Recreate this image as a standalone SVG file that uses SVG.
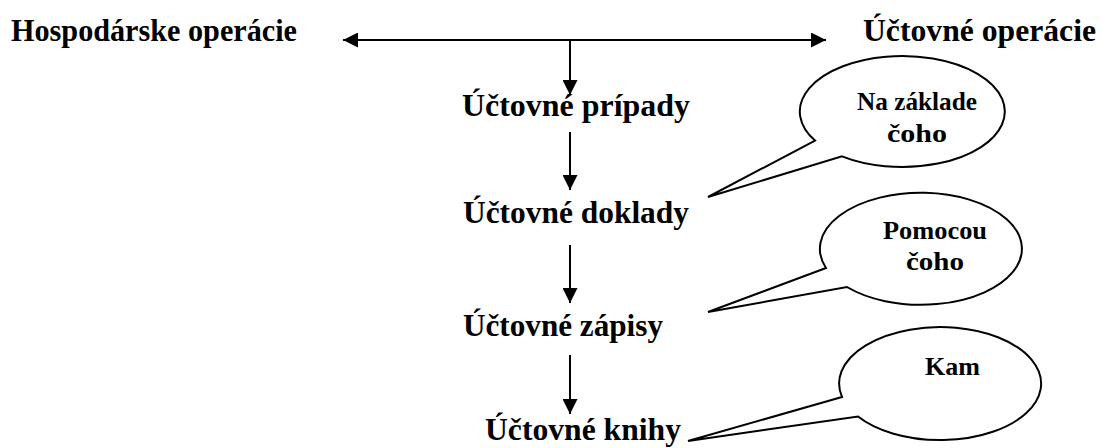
<svg xmlns="http://www.w3.org/2000/svg" width="1101" height="448" viewBox="0 0 1101 448">
<style>
.t{font-family:'Liberation Serif','Times New Roman',serif;font-weight:bold;font-size:32px;fill:#000}
.b{font-family:'Liberation Serif','Times New Roman',serif;font-weight:bold;font-size:26px;fill:#000}
.c{stroke:#000;stroke-width:2;fill:none}
.bub{stroke:#000;stroke-width:2;fill:#fff;stroke-linejoin:miter}
</style>
<defs>
<marker id="ah" viewBox="0 0 10 10" refX="10" refY="5" markerWidth="15" markerHeight="15" markerUnits="userSpaceOnUse" orient="auto-start-reverse">
<path d="M0,0 L10,5 L0,10 z" fill="#000"/>
</marker>
</defs>
<g id="connectors">
<line class="c" x1="343" y1="40" x2="826" y2="40" marker-start="url(#ah)" marker-end="url(#ah)"/>
<line class="c" x1="570" y1="40" x2="570" y2="95" marker-end="url(#ah)"/>
<line class="c" x1="570" y1="132" x2="570" y2="190" marker-end="url(#ah)"/>
<line class="c" x1="570" y1="245" x2="570" y2="303" marker-end="url(#ah)"/>
<line class="c" x1="570" y1="355" x2="570" y2="414" marker-end="url(#ah)"/>
</g>
<g id="n-hospodarske"><text class="t" x="11" y="41" textLength="286" lengthAdjust="spacingAndGlyphs">Hospodárske operácie</text></g>
<g id="n-uctovne-operacie"><text class="t" x="863" y="41" textLength="233" lengthAdjust="spacingAndGlyphs">Účtovné operácie</text></g>
<g id="n-pripady"><text class="t" x="462" y="116" textLength="228" lengthAdjust="spacingAndGlyphs">Účtovné prípady</text></g>
<g id="n-doklady"><text class="t" x="463" y="223" textLength="226" lengthAdjust="spacingAndGlyphs">Účtovné doklady</text></g>
<g id="n-zapisy"><text class="t" x="463" y="336" textLength="200" lengthAdjust="spacingAndGlyphs">Účtovné zápisy</text></g>
<g id="n-knihy"><text class="t" x="485" y="440" textLength="196" lengthAdjust="spacingAndGlyphs">Účtovné knihy</text></g>
<g id="bubble-1">
<path class="bub" d="M815,140.6 L708,197 L842,156.4 A102.5,55.5 0 1 0 815,140.6 Z"/>
<text class="b" x="857" y="110" textLength="120" lengthAdjust="spacingAndGlyphs">Na základe</text>
<text class="b" x="887" y="142" textLength="60" lengthAdjust="spacingAndGlyphs">čoho</text>
</g>
<g id="bubble-2">
<path class="bub" d="M826,268 L708,312 L847,287 A101,56 0 1 0 826,268 Z"/>
<text class="b" x="883" y="239" textLength="104" lengthAdjust="spacingAndGlyphs">Pomocou</text>
<text class="b" x="906" y="270" textLength="58" lengthAdjust="spacingAndGlyphs">čoho</text>
</g>
<g id="bubble-3">
<path class="bub" d="M842,397 L688,441 L858,416.5 A101,56.5 0 1 0 842,397 Z"/>
<text class="b" x="925" y="375" textLength="55" lengthAdjust="spacingAndGlyphs">Kam</text>
</g>
</svg>
